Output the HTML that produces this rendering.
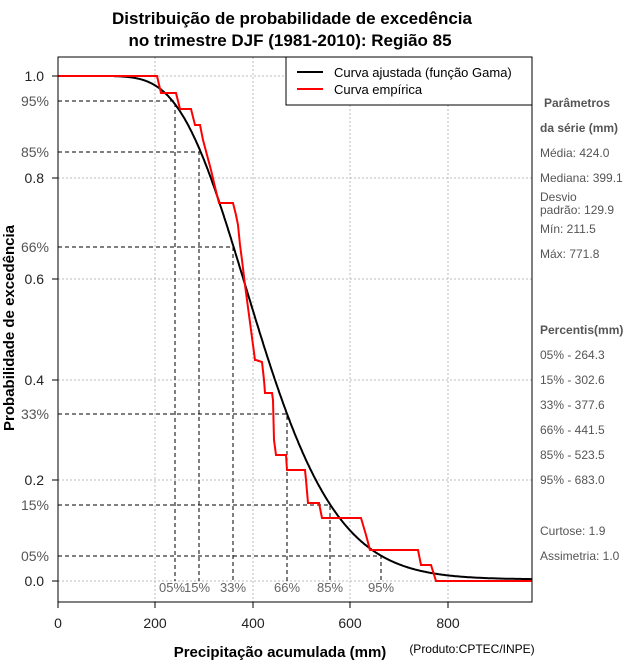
<!DOCTYPE html>
<html><head><meta charset="utf-8"><style>
body{margin:0;background:#fff}
svg{display:block;font-family:"Liberation Sans",sans-serif}
</style></head><body>
<svg width="640" height="660" xmlns="http://www.w3.org/2000/svg">
<rect width="640" height="660" fill="#fff"/>
<text x="292" y="24" text-anchor="middle" font-size="17" font-weight="bold">Distribuição de probabilidade de excedência</text>
<text x="290" y="46" text-anchor="middle" font-size="17" font-weight="bold">no trimestre DJF (1981-2010): Região 85</text>
<g stroke="#bbb" stroke-dasharray="2,2" stroke-width="1">
<line x1="58" x2="532" y1="76" y2="76"/><line x1="58" x2="532" y1="178" y2="178"/>
<line x1="58" x2="532" y1="279" y2="279"/><line x1="58" x2="532" y1="380" y2="380"/>
<line x1="58" x2="532" y1="480" y2="480"/><line x1="58" x2="532" y1="581" y2="581"/>
<line x1="155" x2="155" y1="57" y2="602"/><line x1="253" x2="253" y1="57" y2="602"/>
<line x1="350" x2="350" y1="57" y2="602"/><line x1="448" x2="448" y1="57" y2="602"/>
</g>
<line x1="58" x2="58" y1="57" y2="602" stroke="#000" stroke-dasharray="1,2"/>
<g stroke="#000" stroke-dasharray="4,3" stroke-width="1" fill="none">
<path d="M58 101H175V581"/><path d="M58 152H199V581"/><path d="M58 247H233V581"/>
<path d="M58 414H287V581"/><path d="M58 505H330V581"/><path d="M58 556H381V581"/>
</g>
<path id="gam" fill="none" stroke="#000" stroke-width="2"/>
<polyline fill="none" stroke="#f00" stroke-width="2" points="58,76 157,76 161,93 176,93 180,109 191,109 195,125 200,125 203,140 207,155 211,170 215,187 219,203 233,203 236,215 238,225 240,245 242,260 245,285 247,300 249,315 251,330 253,345 255,360 256,360 262,362 264,380 265,393 272,393 273,400 274,440 276,455 286,455 287,470 305,470 306,480 308,503 319,503 322,518 361,518 366,535 370,550 418,550 421,565 431,565 436,581 532,581"/>
<g fill="#666" font-size="13" text-anchor="middle">
<text x="172" y="592">05%</text><text x="197" y="592">15%</text><text x="233" y="592">33%</text>
<text x="287" y="592">66%</text><text x="330" y="592">85%</text><text x="381" y="592">95%</text>
</g>
<rect x="58" y="57" width="474" height="545" fill="none" stroke="#000"/>
<g stroke="#000"><line x1="52" x2="58" y1="76" y2="76"/><line x1="52" x2="58" y1="178" y2="178"/><line x1="52" x2="58" y1="279" y2="279"/><line x1="52" x2="58" y1="380" y2="380"/><line x1="52" x2="58" y1="480" y2="480"/><line x1="52" x2="58" y1="581" y2="581"/>
<line x1="58" x2="58" y1="602" y2="608"/><line x1="155" x2="155" y1="602" y2="608"/><line x1="253" x2="253" y1="602" y2="608"/><line x1="350" x2="350" y1="602" y2="608"/><line x1="448" x2="448" y1="602" y2="608"/></g>
<g font-size="14" text-anchor="end" fill="#222">
<text x="44" y="81">1.0</text><text x="44" y="183">0.8</text><text x="44" y="284">0.6</text><text x="44" y="385">0.4</text><text x="44" y="485">0.2</text><text x="44" y="586">0.0</text>
</g>
<g font-size="14" text-anchor="end" fill="#555">
<text x="49" y="106">95%</text><text x="49" y="157">85%</text><text x="49" y="252">66%</text><text x="49" y="419">33%</text><text x="49" y="510">15%</text><text x="49" y="561">05%</text>
</g>
<g font-size="14" text-anchor="middle" fill="#222">
<text x="58" y="628">0</text><text x="155" y="628">200</text><text x="253" y="628">400</text><text x="350" y="628">600</text><text x="448" y="628">800</text>
</g>
<text x="280" y="657" text-anchor="middle" font-size="15" font-weight="bold">Precipitação acumulada (mm)</text>
<text x="472" y="653" text-anchor="middle" font-size="12">(Produto:CPTEC/INPE)</text>
<text transform="translate(14,328) rotate(-90)" text-anchor="middle" font-size="15" font-weight="bold">Probabilidade de excedência</text>
<rect x="286" y="57" width="246" height="48" fill="#fff" stroke="#000"/>
<line x1="297" x2="323" y1="72" y2="72" stroke="#000" stroke-width="2"/>
<line x1="297" x2="323" y1="89" y2="89" stroke="#f00" stroke-width="2"/>
<text x="334" y="77" font-size="13">Curva ajustada (função Gama)</text>
<text x="334" y="94" font-size="13">Curva empírica</text>
<g font-size="12" fill="#555">
<text x="544" y="107" font-weight="bold">Parâmetros</text>
<text x="540" y="132" font-weight="bold">da série (mm)</text>
<text x="540" y="157">Média: 424.0</text>
<text x="540" y="182">Mediana: 399.1</text>
<text x="540" y="201">Desvio</text>
<text x="540" y="214">padrão: 129.9</text>
<text x="540" y="233">Mín: 211.5</text>
<text x="540" y="258">Máx: 771.8</text>
<text x="540" y="334" font-weight="bold">Percentis(mm)</text>
<text x="540" y="359">05% - 264.3</text>
<text x="540" y="384">15% - 302.6</text>
<text x="540" y="409">33% - 377.6</text>
<text x="540" y="434">66% - 441.5</text>
<text x="540" y="459">85% - 523.5</text>
<text x="540" y="484">95% - 683.0</text>
<text x="540" y="535">Curtose: 1.9</text>
<text x="540" y="560">Assimetria: 1.0</text>
</g>
<script>
(function(){
var k=10.65,th=39.8;
function lg(z){var c=[76.18009172947146,-86.50532032941677,24.01409824083091,-1.231739572450155,0.1208650973866179,-0.5395239384953e-5];var x=z,y=z,t=x+5.5;t-=(x+0.5)*Math.log(t);var s=1.000000000190015;for(var j=0;j<6;j++)s+=c[j]/++y;return -t+Math.log(2.5066282746310005*s/x);}
var lk=lg(k);
function pdf(x){if(x<=0)return 0;return Math.exp((k-1)*Math.log(x)-x/th-lk-k*Math.log(th));}
var d="",cdf=0,prev=0,step=1;
for(var x=0;x<=972;x+=step){var p=pdf(x);cdf+=(p+prev)/2*step;prev=p;
if(x>=115){var px=58+x*0.4875,py=76+cdf*505;d+=(d?"L":"M")+px.toFixed(1)+" "+py.toFixed(1);}}
document.getElementById("gam").setAttribute("d",d);
})();
</script>
</svg>
</body></html>
